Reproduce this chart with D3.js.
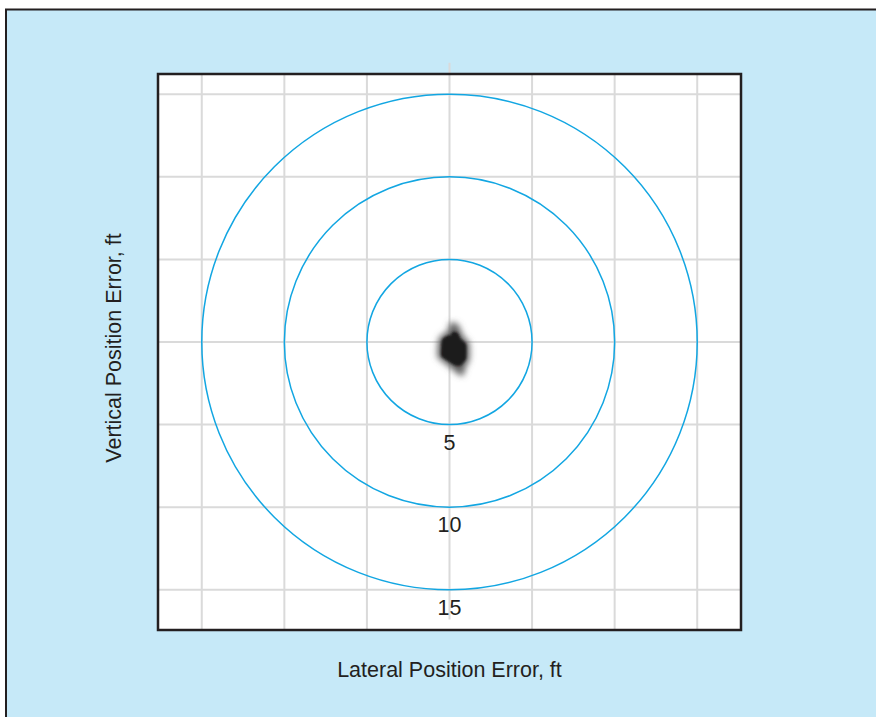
<!DOCTYPE html>
<html>
<head>
<meta charset="utf-8">
<script src="https://cdn.jsdelivr.net/npm/d3@7"></script>
<style>
  html, body { margin: 0; padding: 0; background: #fff; }
  svg { display: block; }
  text { font-family: "Liberation Sans", Arial, Helvetica, sans-serif; fill: #231f20; }
</style>
</head>
<body>
<div id="chart"></div>
<script>
// grid ticks (ft) and reference rings
const gridTicks = [-15, -10, -5, 0, 5, 10, 15];
const ringRadii = [5, 10, 15];
const ringLabels = ["5", "10", "15"];

// impact pattern outline, ft (lateral, vertical)
const coreOutline = [
  [-0.45, 0.12], [-0.15, 0.36], [0.09, 0.42], [0.21, 0.62], [0.49, 0.55],
  [0.68, 0.18], [1.00, -0.14], [1.00, -1.01], [0.68, -1.40], [0.33, -1.40],
  [-0.18, -1.09], [-0.50, -0.83]
];
const haloOutline = [
  [-0.50, 0.12], [-0.15, 0.42], [0.09, 0.58], [0.15, 1.02], [0.40, 0.92],
  [0.54, 0.58], [0.74, 0.20], [1.04, -0.14], [1.04, -1.04], [0.80, -1.45],
  [0.72, -1.88], [0.40, -1.62], [-0.18, -1.14], [-0.56, -0.84]
];

const width = 876, height = 717;
const box = { left: 158, right: 741, top: 74, bottom: 630 };

const svg = d3.select("#chart").append("svg")
  .attr("width", width)
  .attr("height", height);

// page frame
svg.append("rect").attr("x", 6).attr("y", 9).attr("width", width).attr("height", height)
  .attr("fill", "#c6e9f8");
svg.append("line").attr("x1", 5).attr("x2", width).attr("y1", 9.5).attr("y2", 9.5)
  .attr("stroke", "#231f20").attr("stroke-width", 2);
svg.append("line").attr("x1", 6).attr("x2", 6).attr("y1", 9).attr("y2", height)
  .attr("stroke", "#231f20").attr("stroke-width", 2);

const x = d3.scaleLinear().domain([-17.65, 17.65]).range([box.left, box.right]);
const y = d3.scaleLinear().domain([-17.43, 16.22]).range([box.bottom, box.top]);
const pxPerFt = x(1) - x(0);

svg.append("rect")
  .attr("x", box.left).attr("y", box.top)
  .attr("width", box.right - box.left).attr("height", box.bottom - box.top)
  .attr("fill", "#fff");

const grid = svg.append("g").attr("stroke", "#dadada").attr("stroke-width", 2);
grid.selectAll(".v").data(gridTicks).join("line")
  .attr("x1", d => x(d)).attr("x2", d => x(d))
  .attr("y1", d => d === 0 ? y(16.9) : box.top)
  .attr("y2", d => d === 0 ? y(-16.8) : box.bottom);
grid.selectAll(".h").data(gridTicks).join("line")
  .attr("x1", box.left).attr("x2", box.right)
  .attr("y1", d => y(d)).attr("y2", d => y(d));

svg.selectAll(".ring").data(ringRadii).join("circle")
  .attr("cx", x(0)).attr("cy", y(0))
  .attr("r", d => d * pxPerFt)
  .attr("fill", "none")
  .attr("stroke", "#12a6e2")
  .attr("stroke-width", 1.5);

svg.selectAll(".ringLabel").data(ringRadii).join("text")
  .attr("x", x(0))
  .attr("y", d => y(-d) + 25)
  .attr("text-anchor", "middle")
  .style("font-size", "21.5px")
  .text((d, i) => ringLabels[i]);

// impact blob
const defs = svg.append("defs");
defs.append("filter").attr("id", "soft").attr("x", "-50%").attr("y", "-50%").attr("width", "200%").attr("height", "200%")
  .append("feGaussianBlur").attr("stdDeviation", 3);
defs.append("filter").attr("id", "edge")
  .append("feGaussianBlur").attr("stdDeviation", 1);

const outline = d3.line()
  .x(d => x(d[0])).y(d => y(d[1]))
  .curve(d3.curveCardinalClosed.tension(0.6));

svg.append("path").attr("d", outline(haloOutline))
  .attr("fill", "#333").attr("stroke", "#666").attr("stroke-width", 6)
  .attr("filter", "url(#soft)");
svg.append("path").attr("d", outline(coreOutline))
  .attr("fill", "#1f1b1c")
  .attr("filter", "url(#edge)");

svg.append("rect")
  .attr("x", box.left).attr("y", box.top)
  .attr("width", box.right - box.left).attr("height", box.bottom - box.top)
  .attr("fill", "none").attr("stroke", "#231f20").attr("stroke-width", 2.5);

svg.append("text")
  .attr("x", x(0)).attr("y", 677)
  .attr("text-anchor", "middle")
  .style("font-size", "21.5px")
  .text("Lateral Position Error, ft");

svg.append("text")
  .attr("transform", `translate(121,348) rotate(-90)`)
  .attr("text-anchor", "middle")
  .style("font-size", "21.5px")
  .text("Vertical Position Error, ft");
</script>
</body>
</html>
